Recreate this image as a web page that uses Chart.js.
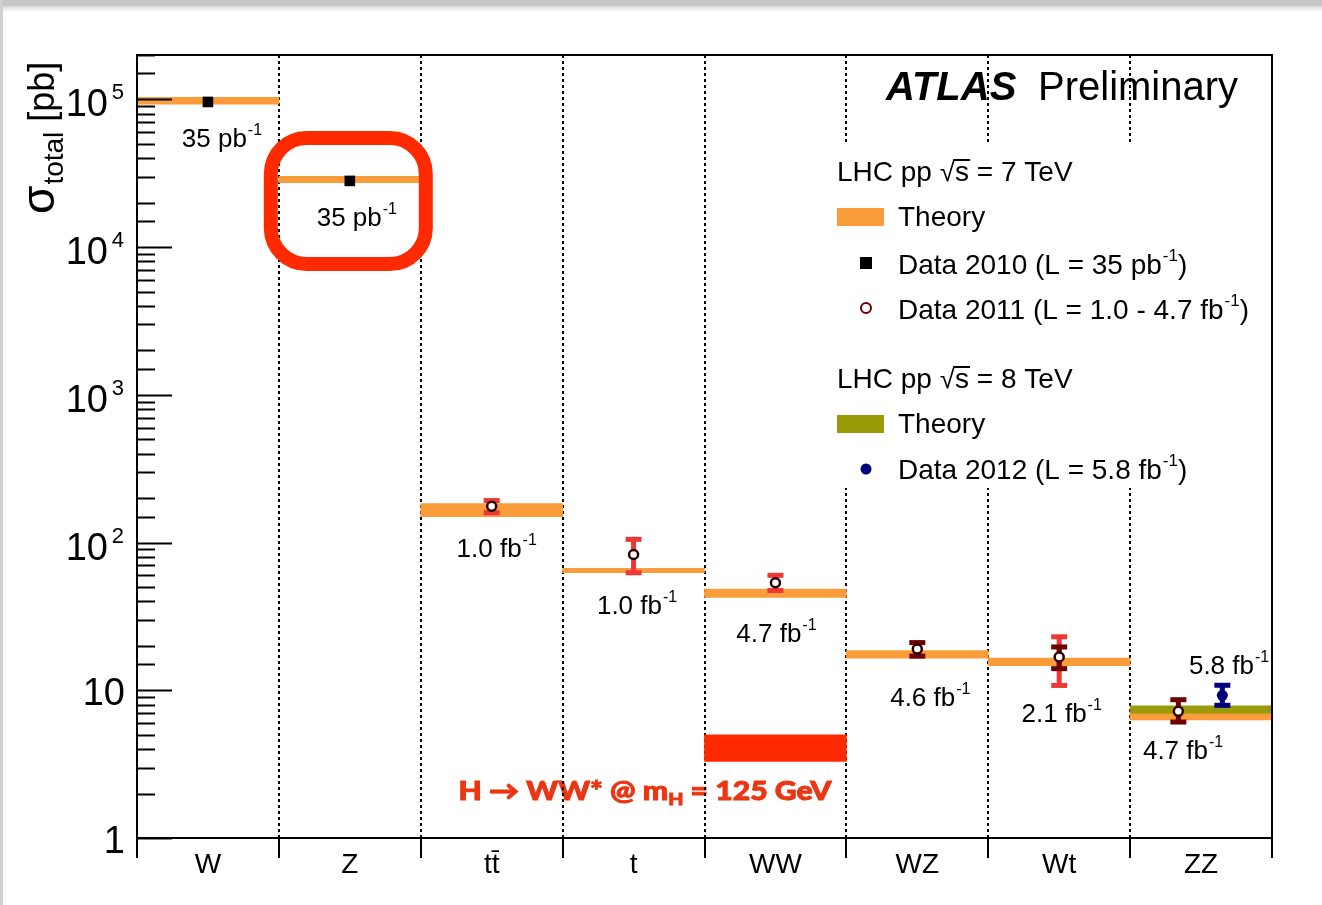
<!DOCTYPE html>
<html><head><meta charset="utf-8">
<script src="https://cdn.jsdelivr.net/npm/chart.js@4.4.1/dist/chart.umd.min.js"></script>
<style>html,body{margin:0;padding:0;background:#fff;overflow:hidden}#wrap{width:1322px;height:905px;position:relative}canvas{display:block}</style>
</head><body>
<div id="wrap"><canvas id="c" width="1322" height="905"></canvas></div>
<script>
// ---------------- data ----------------
const categories = ['W', 'Z', 'tt\u0304', 't', 'WW', 'WZ', 'Wt', 'ZZ'];

// 7 TeV theory bands (pb)
const theory7Lo = [9.3e4, 2.73e4, 150, 62.5, 42.6, 16.5, 14.7, 6.3];
const theory7Hi = [1.035e5, 3.02e4, 184, 67, 48.5, 18.6, 16.5, 7.0];

// 8 TeV theory band
const theory8Cats = ['ZZ'];
const theory8Lo = [7.0];
const theory8Hi = [7.85];

// Higgs H->WW* expectation band
const higgsCats = ['WW'];
const higgsLo = [3.3];
const higgsHi = [5.0];

// Data 2010
const data2010Cats = ['W', 'Z'];
const data2010 = [9.62e4, 2.81e4];

// Data 2011
const data2011Cats = ['tt\u0304', 't', 'WW', 'WZ', 'Wt', 'ZZ'];
const data2011 = [176, 83, 53.5, 19.0, 16.8, 7.2];
const data2011TotLo = [158, 62, 47, null, 10.7, null];
const data2011TotHi = [194, 106, 60.5, null, 23.2, null];
const data2011StatLo = [null, null, null, 16.9, 13.9, 6.05];
const data2011StatHi = [null, null, null, 21.2, 19.8, 8.7];

// Data 2012
const data2012Cats = ['ZZ'];
const data2012 = [9.25];
const data2012Lo = [7.85];
const data2012Hi = [10.9];

// luminosity labels
const lumiLabels = ['35 pb', '35 pb', '1.0 fb', '1.0 fb', '4.7 fb', '4.6 fb', '2.1 fb', '4.7 fb'];
const lumi2012Label = '5.8 fb';

// y axis
const yMin = 1, yMax = 2e5;
const yTickLabels = [{v: 1, b: '1', e: ''}, {v: 10, b: '10', e: ''}, {v: 100, b: '10', e: '2'},
  {v: 1000, b: '10', e: '3'}, {v: 1e4, b: '10', e: '4'}, {v: 1e5, b: '10', e: '5'}];

// ---------------- styles ----------------
const FONT = "'Liberation Sans', Arial, Helvetica, sans-serif";
const ORANGE = '#fa9c3a';
const OLIVE = '#99990a';
const HRED = '#ff2a00';
const DARKRED = '#6e0000';
const ERRRED = '#ee3838';
const NAVY = '#00007a';

const ci = c => categories.indexOf(c);
const zzShift2011 = c => (c === 'ZZ' ? -0.16 : 0);
const zzShift2012 = 0.15;

function supText(ctx, x, y, main, sup, size, align, color) {
  const ss = Math.round(size * 0.6);
  ctx.fillStyle = color || '#000';
  ctx.textBaseline = 'alphabetic';
  ctx.textAlign = 'left';
  ctx.font = size + 'px ' + FONT;
  const w1 = ctx.measureText(main).width;
  ctx.font = ss + 'px ' + FONT;
  const w2 = sup ? ctx.measureText(sup).width + 1 : 0;
  let x0 = x;
  if (align === 'center') x0 = x - (w1 + w2) / 2;
  else if (align === 'right') x0 = x - w1 - w2;
  ctx.font = size + 'px ' + FONT;
  ctx.fillText(main, x0, y);
  if (sup) {
    ctx.font = ss + 'px ' + FONT;
    ctx.fillText(sup, x0 + w1 + 1, y - size * 0.46);
  }
  return x0 + w1 + w2;
}

const errorPlugin = {
  id: 'errs',
  beforeDatasetDraw(chart, args) {
    if (!chart.data.datasets[args.index].errorsBefore) return;
    const ctx = chart.ctx, xs = chart.scales.x, ys = chart.scales.y;
    function bar(xv, lo, hi, color) {
      const x = xs.getPixelForValue(xv);
      const y1 = ys.getPixelForValue(hi), y2 = ys.getPixelForValue(lo);
      ctx.fillStyle = color;
      ctx.fillRect(x - 2.5, y1, 5, y2 - y1);
      ctx.fillRect(x - 8, y1 - 2, 16, 5);
      ctx.fillRect(x - 8, y2 - 3, 16, 5);
    }
    ctx.save();
    data2011Cats.forEach((c, i) => {
      const xv = ci(c) + zzShift2011(c);
      if (data2011TotLo[i] != null) bar(xv, data2011TotLo[i], data2011TotHi[i], ERRRED);
      if (data2011StatLo[i] != null) bar(xv, data2011StatLo[i], data2011StatHi[i], DARKRED);
    });
    data2012Cats.forEach((c, i) => bar(ci(c) + zzShift2012, data2012Lo[i], data2012Hi[i], NAVY));
    ctx.restore();
  }
};

const decoPlugin = {
  id: 'deco',
  beforeDraw(chart) {
    const ctx = chart.ctx;
    ctx.save();
    ctx.fillStyle = '#fff';
    ctx.fillRect(0, 0, chart.width, chart.height);
    ctx.fillStyle = '#c6c6c6';
    ctx.fillRect(0, 0, chart.width, 6);
    const g = ctx.createLinearGradient(0, 6, 0, 12);
    g.addColorStop(0, '#dadada'); g.addColorStop(1, '#ffffff');
    ctx.fillStyle = g; ctx.fillRect(0, 6, chart.width, 6);
    ctx.fillStyle = '#d0d0d0';
    ctx.fillRect(0, 0, 3, chart.height);
    // Higgs label (drawn under grid lines)
    const xs = chart.scales.x, ys = chart.scales.y;
    const hx = xs.getPixelForValue(ci('WW')) - 317;
    const hy = ys.getPixelForValue(Math.sqrt(higgsLo[0] * higgsHi[0])) + 52;
    const big = "900 26px Lato, 'Open Sans', sans-serif";
    const small = "900 17px Lato, 'Open Sans', sans-serif";
    ctx.font = big;
    const pA = 'H \u2192 WW* @ m', pC = ' = 125 GeV';
    const wA = ctx.measureText(pA).width, wC = ctx.measureText(pC).width;
    ctx.font = small;
    const wB = ctx.measureText('H').width;
    const sx = 373 / (wA + wB + wC);
    ctx.translate(hx, hy);
    ctx.scale(sx, 1);
    ctx.fillStyle = '#ec3512';
    ctx.strokeStyle = '#ec3512';
    ctx.lineWidth = 0.9;
    ctx.textBaseline = 'alphabetic';
    ctx.font = big; ctx.fillText(pA, 0, 0); ctx.strokeText(pA, 0, 0);
    ctx.font = small; ctx.fillText('H', wA, 5); ctx.strokeText('H', wA, 5);
    ctx.font = big; ctx.fillText(pC, wA + wB, 0); ctx.strokeText(pC, wA + wB, 0);
    ctx.restore();
  },
  afterDraw(chart) {
    const ctx = chart.ctx, a = chart.chartArea, xs = chart.scales.x, ys = chart.scales.y;
    ctx.save();
    // frame
    ctx.strokeStyle = '#000'; ctx.lineWidth = 2;
    ctx.strokeRect(a.left, a.top, a.right - a.left, a.bottom - a.top);
    // y ticks drawn inward
    ctx.lineWidth = 2;
    ys.ticks.forEach(t => {
      if (t.value < yMin || t.value > yMax) return;
      const l = Math.log10(t.value);
      const major = Math.abs(l - Math.round(l)) < 1e-9;
      const y = Math.round(ys.getPixelForValue(t.value)) + 0.5;
      ctx.beginPath(); ctx.moveTo(a.left, y); ctx.lineTo(a.left + (major ? 35 : 18), y); ctx.stroke();
    });
    // y labels
    yTickLabels.forEach(t => {
      const y = ys.getPixelForValue(t.v);
      ctx.fillStyle = '#000';
      ctx.textBaseline = 'alphabetic';
      if (t.e) {
        ctx.font = '22px ' + FONT; ctx.textAlign = 'right';
        ctx.fillText(t.e, a.left - 13, y);
        ctx.font = '38px ' + FONT;
        ctx.fillText(t.b, a.left - 29, y + 17);
      } else {
        ctx.font = '38px ' + FONT; ctx.textAlign = 'right';
        ctx.fillText(t.b, a.left - 12, y + 15);
      }
    });
    // y axis title (rotated)
    ctx.save();
    ctx.translate(54, 214);
    ctx.rotate(-Math.PI / 2);
    ctx.textAlign = 'left'; ctx.fillStyle = '#000';
    ctx.font = '46px ' + FONT;
    ctx.fillText('\u03C3', 0, 0);
    let w = ctx.measureText('\u03C3').width;
    ctx.font = '28px ' + FONT;
    ctx.fillText('total', w + 1, 9);
    w += ctx.measureText('total').width + 1;
    ctx.font = '36px ' + FONT;
    ctx.fillText(' [pb]', w, 0);
    ctx.restore();
    // luminosity labels
    const lumiPos = [[14, 37], [7, 37.5], [5, 38], [3.5, 34.5], [1, 40], [13, 43], [2.5, 51], [-18, 33.5]];
    categories.forEach((c, i) => {
      const x = xs.getPixelForValue(i) + lumiPos[i][0];
      const yc = ys.getPixelForValue(Math.sqrt(theory7Lo[i] * theory7Hi[i])) + lumiPos[i][1];
      supText(ctx, x, yc + 9, lumiLabels[i], '-1', 26, 'center');
    });
    {
      const x = xs.getPixelForValue(ci(data2012Cats[0])) + 28;
      const yc = ys.getPixelForValue(data2012[0]) - 30;
      supText(ctx, x, yc + 9, lumi2012Label, '-1', 26, 'center');
    }
    // legend box (hides grid lines)
    ctx.fillStyle = '#fff';
    ctx.fillRect(829, 142, a.right - 1 - 829, 346);
    const txt = (s, x, y, size) => { ctx.font = (size || 28) + 'px ' + FONT; ctx.fillStyle = '#000'; ctx.textAlign = 'left'; ctx.textBaseline = 'alphabetic'; ctx.fillText(s, x, y); return ctx.measureText(s).width; };
    function header(y, tev) {
      let x = 837;
      x += txt('LHC pp ', x, y);
      const sq = txt('\u221A', x, y);
      const sw = txt('s', x + sq, y);
      ctx.fillRect(x + sq - 1, y - 22, sw + 2, 2);
      x += sq + sw;
      txt(' = ' + tev + ' TeV', x, y);
    }
    header(181, 7);
    ctx.fillStyle = ORANGE; ctx.fillRect(837, 208, 47, 18);
    txt('Theory', 898, 226);
    ctx.fillStyle = '#000'; ctx.fillRect(860, 257, 12, 12);
    supTextL(ctx, 898, 274, 'Data 2010 (L = 35 pb', '-1', ')');
    ctx.beginPath(); ctx.arc(866, 308, 5, 0, Math.PI * 2); ctx.strokeStyle = DARKRED; ctx.lineWidth = 2; ctx.stroke();
    supTextL(ctx, 898, 319, 'Data 2011 (L = 1.0 - 4.7 fb', '-1', ')');
    header(388, 8);
    ctx.fillStyle = OLIVE; ctx.fillRect(837, 415, 47, 18);
    txt('Theory', 898, 433);
    ctx.beginPath(); ctx.arc(866, 469, 5.5, 0, Math.PI * 2); ctx.fillStyle = NAVY; ctx.fill();
    supTextL(ctx, 898, 479, 'Data 2012 (L = 5.8 fb', '-1', ')');
    // ATLAS Preliminary
    ctx.fillStyle = '#000'; ctx.textAlign = 'left';
    ctx.font = 'italic bold 40px ' + FONT;
    ctx.fillText('ATLAS', 886, 100);
    ctx.font = '40px ' + FONT;
    ctx.fillText('Preliminary', 1038, 100);
    // red highlight box around Z
    ctx.strokeStyle = HRED; ctx.lineWidth = 14;
    const zx = xs.getPixelForValue(ci('Z'));
    const bx0 = zx - 79, bx1 = zx + 76, by0 = 138, by1 = 264, r = 36;
    ctx.beginPath();
    ctx.moveTo(bx0 + r, by0);
    ctx.arcTo(bx1, by0, bx1, by1, r);
    ctx.arcTo(bx1, by1, bx0, by1, r);
    ctx.arcTo(bx0, by1, bx0, by0, r);
    ctx.arcTo(bx0, by0, bx1, by0, r);
    ctx.closePath(); ctx.stroke();
    ctx.restore();
  }
};

function supTextL(ctx, x, y, main, sup, tail) {
  ctx.fillStyle = '#000';
  const end = supText(ctx, x, y, main, sup, 28, 'left');
  ctx.font = '28px ' + FONT;
  ctx.fillText(tail, end, y);
}

const chart = new Chart(document.getElementById('c'), {
  type: 'bar',
  data: {
    datasets: [
      {
        type: 'bar', label: 'Theory 7 TeV', order: 12, grouped: false,
        data: categories.map((c, i) => ({x: i, y: [theory7Lo[i], theory7Hi[i]]})),
        backgroundColor: ORANGE, borderWidth: 0, barPercentage: 1, categoryPercentage: 1
      },
      {
        type: 'bar', label: 'Theory 8 TeV', order: 11, grouped: false,
        data: theory8Cats.map((c, i) => ({x: ci(c), y: [theory8Lo[i], theory8Hi[i]]})),
        backgroundColor: OLIVE, borderWidth: 0, barPercentage: 1, categoryPercentage: 1
      },
      {
        type: 'bar', label: 'H->WW*', order: 10, grouped: false,
        data: higgsCats.map((c, i) => ({x: ci(c), y: [higgsLo[i], higgsHi[i]]})),
        backgroundColor: HRED, borderWidth: 0, barPercentage: 1, categoryPercentage: 1
      },
      {
        type: 'scatter', label: 'Data 2012', order: 3, errorsBefore: true,
        data: data2012Cats.map((c, i) => ({x: ci(c) + zzShift2012, y: data2012[i]})),
        pointStyle: 'circle', pointRadius: 5.5, pointBackgroundColor: NAVY, pointBorderColor: NAVY, pointBorderWidth: 0
      },
      {
        type: 'scatter', label: 'Data 2011', order: 2,
        data: data2011Cats.map((c, i) => ({x: ci(c) + zzShift2011(c), y: data2011[i]})),
        pointStyle: 'circle', pointRadius: 4.5, pointBackgroundColor: '#fff', pointBorderColor: '#2a0000', pointBorderWidth: 2.5
      },
      {
        type: 'scatter', label: 'Data 2010', order: 1,
        data: data2010Cats.map((c, i) => ({x: ci(c), y: data2010[i]})),
        pointStyle: 'rect', pointRadius: 7.5, pointBackgroundColor: '#000', pointBorderColor: '#000', pointBorderWidth: 0
      }
    ]
  },
  options: {
    responsive: false, animation: false, devicePixelRatio: 1,
    layout: {padding: {left: 0, top: 55, right: 50, bottom: 0}},
    plugins: {legend: {display: false}, tooltip: {enabled: false}, title: {display: false}},
    scales: {
      x: {
        type: 'linear', min: -0.5, max: 7.5, offset: false,
        afterBuildTicks: s => { s.ticks = categories.map((c, i) => ({value: i})); },
        afterFit: s => { s.height = 67; },
        ticks: {
          callback: v => categories[Math.round(v)],
          font: {family: FONT, size: 28}, color: '#000', padding: -10, maxRotation: 0, autoSkip: false
        },
        grid: {
          offset: true, color: '#000', lineWidth: 2, drawTicks: true, tickLength: 20,
          tickColor: '#000', tickWidth: 2, tickBorderDash: [0, 0]
        },
        border: {display: false, dash: [3, 3]}
      },
      y: {
        type: 'logarithmic', min: yMin, max: yMax,
        afterFit: s => { s.width = 137; },
        ticks: {display: false},
        grid: {display: false},
        border: {display: false}
      }
    }
  },
  plugins: [errorPlugin, decoPlugin]
});
</script>
</body></html>
